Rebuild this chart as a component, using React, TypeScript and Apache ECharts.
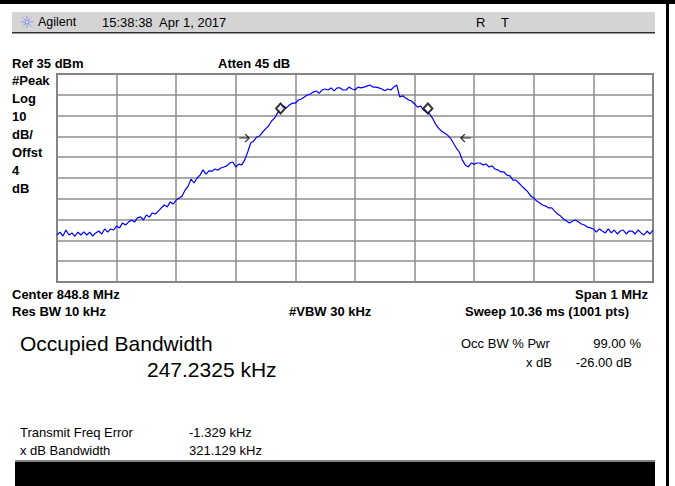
import React, { useEffect, useRef } from "react";
import * as echarts from "echarts";

// Instrument settings
const REF_LEVEL_DBM = 35;
const DB_PER_DIV = 10;
const DIVISIONS = 10;
const SPAN_KHZ = 1000;
const SWEEP_STEP_KHZ = 5;

// Trace levels (dBm), one per sweep point from -500 kHz to +500 kHz (5 kHz steps)
const TRACE_LEVELS_DBM = [
  -42.4, -41.0, -42.9, -40.0, -42.4, -41.4, -43.0, -41.0, -42.4, -40.9,
  -42.4, -41.0, -42.9, -41.4, -40.5, -41.9, -39.5, -41.0, -39.5, -40.0,
  -38.1, -39.0, -36.6, -37.6, -36.2, -35.2, -36.2, -34.2, -33.7, -35.2,
  -32.8, -33.8, -31.8, -32.3, -30.9, -29.4, -28.0, -28.9, -26.5, -27.5,
  -25.6, -24.6, -23.7, -20.8, -18.9, -15.5, -17.4, -15.0, -13.6, -11.1,
  -13.1, -11.6, -11.7, -10.7, -11.2, -10.2, -9.7, -9.2, -7.8, -7.3,
  -9.7, -8.3, -8.7, -6.3, -2.5, 1.8, 2.8, 4.7, 5.2, 7.1,
  8.6, 10.0, 12.4, 13.8, 16.2, 18.2, 19.6, 18.7, 20.1, 21.0,
  21.0, 22.5, 23.0, 23.9, 24.9, 25.4, 26.3, 26.8, 25.8, 27.3,
  27.8, 27.3, 28.3, 26.9, 28.3, 28.3, 27.3, 27.3, 28.7, 27.8,
  27.3, 28.7, 28.3, 28.7, 29.2, 29.7, 28.7, 28.7, 28.3, 27.8,
  26.9, 27.8, 27.3, 28.7, 29.7, 24.0, 24.5, 23.5, 22.5, 22.0,
  20.6, 19.1, 19.6, 17.7, 16.7, 15.8, 13.8, 11.0, 9.0, 7.6,
  6.6, 5.7, 4.2, 1.8, -0.6, -2.5, -6.3, -8.7, -9.7, -7.8,
  -8.3, -7.8, -7.8, -8.7, -8.3, -9.7, -9.2, -10.7, -11.2, -12.1,
  -12.1, -13.6, -14.0, -16.0, -16.0, -17.4, -18.9, -20.3, -21.7, -23.7,
  -24.6, -26.1, -27.0, -28.0, -28.5, -29.4, -29.4, -30.9, -32.3, -33.3,
  -34.7, -35.7, -36.6, -35.7, -35.2, -36.2, -37.1, -37.6, -38.6, -39.0,
  -39.5, -41.0, -39.5, -40.5, -41.4, -39.5, -41.4, -40.0, -41.9, -40.5,
  -40.0, -41.9, -40.5, -40.5, -41.9, -40.0, -41.4, -42.4, -40.5, -41.9,
  -40.0,
];

// Occupied-bandwidth markers (diamonds)
const OBW_MARKER_FREQS_KHZ = [-124.9, 122.3];
const OBW_MARKER_LEVEL_DBM = 18.4;

// x dB bandwidth arrows
const XDB_ARROW_FREQS_KHZ = [-186, 186];
const XDB_ARROW_LEVEL_DBM = 4.2;

const FONT = '"Liberation Sans", Arial, sans-serif';

export default function App() {
  const ref = useRef<HTMLDivElement>(null);

  useEffect(() => {
    document.body.style.margin = "0";
    if (!ref.current) return;
    const chart = echarts.init(ref.current, undefined, { renderer: "svg" });

    const rel = (dbm: number) => dbm - REF_LEVEL_DBM;
    const traceData = TRACE_LEVELS_DBM.map((v, i) => [
      -SPAN_KHZ / 2 + i * SWEEP_STEP_KHZ,
      rel(v),
    ]);

    const bold = (s: number) => `bold ${s}px ${FONT}`;
    const norm = (s: number) => `${s}px ${FONT}`;
    const txt = (
      x: number,
      y: number,
      text: string,
      font: string,
      align: string = "left"
    ) => ({
      type: "text",
      x,
      y,
      silent: true,
      style: {
        text,
        font,
        fill: "#000",
        textAlign: align,
        textVerticalAlign: "middle",
      },
    });

    const sparkLines: any[] = [];
    for (let k = 0; k < 8; k++) {
      const a = (k * Math.PI) / 4;
      sparkLines.push({
        type: "line",
        silent: true,
        shape: {
          x1: 27 + Math.cos(a) * 1.5,
          y1: 22 + Math.sin(a) * 1.5,
          x2: 27 + Math.cos(a) * 6,
          y2: 22 + Math.sin(a) * 6,
        },
        style: { stroke: "#3a5cff", lineWidth: 1, lineDash: [1, 1] },
      });
    }

    chart.setOption({
      animation: false,
      backgroundColor: "#fff",
      grid: {
        left: 57,
        top: 74,
        width: 596,
        height: 208,
        show: true,
        borderColor: "#707070",
        borderWidth: 2,
        backgroundColor: "#fff",
      },
      xAxis: {
        type: "value",
        min: -SPAN_KHZ / 2,
        max: SPAN_KHZ / 2,
        interval: SPAN_KHZ / DIVISIONS,
        axisLine: { show: false },
        axisTick: { show: false },
        axisLabel: { show: false },
        splitLine: { show: true, lineStyle: { color: "#8c8c8c", width: 1.5 } },
      },
      yAxis: {
        type: "value",
        min: -DB_PER_DIV * DIVISIONS,
        max: 0,
        interval: DB_PER_DIV,
        axisLine: { show: false },
        axisTick: { show: false },
        axisLabel: { show: false },
        splitLine: { show: true, lineStyle: { color: "#8c8c8c", width: 1.5 } },
      },
      series: [
        {
          type: "line",
          data: traceData,
          showSymbol: false,
          symbol: "none",
          lineStyle: { color: "#0000ff", width: 1.2 },
          silent: true,
          z: 3,
        },
        {
          type: "scatter",
          data: OBW_MARKER_FREQS_KHZ.map((f) => [f, rel(OBW_MARKER_LEVEL_DBM)]),
          symbol: "diamond",
          symbolSize: [9, 10],
          itemStyle: { color: "#fff", borderColor: "#000", borderWidth: 2 },
          silent: true,
          z: 5,
        },
        {
          type: "scatter",
          data: [[XDB_ARROW_FREQS_KHZ[0], rel(XDB_ARROW_LEVEL_DBM)]],
          symbol: "path://M0,4 L10,4 M6,0 L10,4 L6,8",
          symbolSize: [10, 8],
          itemStyle: { color: "none", borderColor: "#000", borderWidth: 1.2 },
          silent: true,
          z: 5,
        },
        {
          type: "scatter",
          data: [[XDB_ARROW_FREQS_KHZ[1], rel(XDB_ARROW_LEVEL_DBM)]],
          symbol: "path://M10,4 L0,4 M4,0 L0,4 L4,8",
          symbolSize: [10, 8],
          itemStyle: { color: "none", borderColor: "#000", borderWidth: 1.2 },
          silent: true,
          z: 5,
        },
      ],
      graphic: [
        { type: "rect", silent: true, shape: { x: 0, y: 0, width: 675, height: 4 }, style: { fill: "#000" } },
        { type: "rect", silent: true, shape: { x: 666, y: 0, width: 3, height: 486 }, style: { fill: "#000" } },
        { type: "rect", silent: true, shape: { x: 12, y: 12, width: 643, height: 21 }, style: { fill: "#d4d4d4" } },
        { type: "rect", silent: true, shape: { x: 12, y: 32, width: 643, height: 1.5 }, style: { fill: "#303030" } },
        ...sparkLines,
        txt(38, 22, "Agilent", norm(12.5)),
        txt(102, 22, "15:38:38  Apr 1, 2017", norm(13)),
        txt(476, 22, "R", norm(13)),
        txt(501, 22, "T", norm(13)),
        txt(12, 63, "Ref 35 dBm", bold(13)),
        txt(218, 63, "Atten 45 dB", bold(13)),
        txt(12, 80, "#Peak", bold(13)),
        txt(12, 98, "Log", bold(13)),
        txt(12, 116, "10", bold(13)),
        txt(12, 134, "dB/", bold(13)),
        txt(12, 152, "Offst", bold(13)),
        txt(12, 170, "4", bold(13)),
        txt(12, 188, "dB", bold(13)),
        txt(12, 294, "Center 848.8 MHz", bold(13)),
        txt(648, 294, "Span 1 MHz", bold(13), "right"),
        txt(12, 311, "Res BW 10 kHz", bold(13)),
        txt(289, 311, "#VBW 30 kHz", bold(13)),
        txt(629, 311, "Sweep 10.36 ms (1001 pts)", bold(13), "right"),
        txt(20, 343, "Occupied Bandwidth", norm(21)),
        txt(147, 369, "247.2325 kHz", norm(21)),
        txt(461, 343, "Occ BW % Pwr", norm(13)),
        txt(641, 343, "99.00 %", norm(13), "right"),
        txt(552, 362, "x dB", norm(13), "right"),
        txt(632, 362, "-26.00 dB", norm(13), "right"),
        txt(20, 432, "Transmit Freq Error", norm(13)),
        txt(189, 432, "-1.329 kHz", norm(13)),
        txt(20, 450, "x dB Bandwidth", norm(13)),
        txt(189, 450, "321.129 kHz", norm(13)),
        { type: "rect", silent: true, shape: { x: 15, y: 460, width: 640, height: 2 }, style: { fill: "#808080" } },
        { type: "rect", silent: true, shape: { x: 15, y: 462, width: 640, height: 24 }, style: { fill: "#000" } },
      ],
    });

    return () => chart.dispose();
  }, []);

  return <div ref={ref} style={{ width: 675, height: 486 }} />;
}
